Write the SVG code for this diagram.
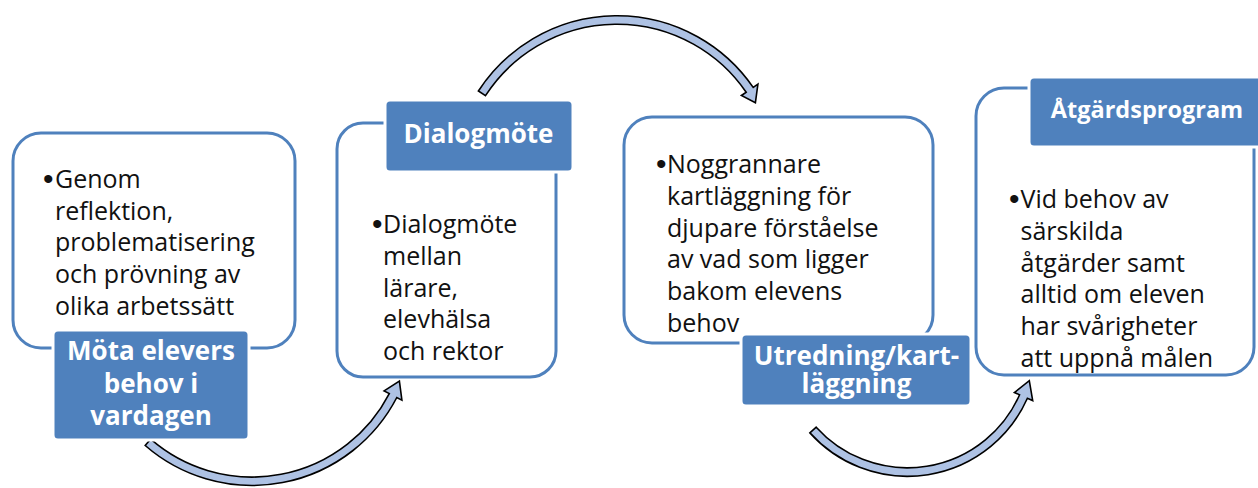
<svg xmlns="http://www.w3.org/2000/svg" width="1258" height="488" viewBox="0 0 1258 488">
<defs>
<style>
.box{fill:#ffffff;stroke:#4f81bd;stroke-width:3}
.lab{fill:#4f81bd;stroke:#ffffff;stroke-width:3}
.arr{fill:#aec2e4;stroke:#000000;stroke-width:1.6;stroke-linejoin:miter}
.body{font-family:"Open Sans","Liberation Sans",sans-serif;font-size:25px;fill:#111111}
.bul{font-family:"Liberation Sans",sans-serif;font-size:30px;fill:#111111}
.head{font-family:"Open Sans","Liberation Sans",sans-serif;font-size:26px;font-weight:bold;fill:#ffffff;text-anchor:middle}
</style>
</defs>
<rect width="1258" height="488" fill="#ffffff"/>
<g id="connectors">
<path class="arr" d="M 145.2,445.5 A 163 163 0 0 0 396.8,397.5 L 401.9,400.1 L 399.4,381.1 L 384.1,390.9 L 389.3,393.6 A 154.5 154.5 0 0 1 150.7,439.1 Z"/>
<path class="arr" d="M 478.4,91.0 A 165.25 165.25 0 0 1 753.2,87.4 L 757.9,84.1 L 755.4,102.7 L 741.4,95.5 L 746.2,92.2 A 156.75 156.75 0 0 0 485.5,95.6 Z"/>
<path class="arr" d="M 809.9,432.9 A 131.25 131.25 0 0 0 1027.4,398.3 L 1032.7,400.6 L 1029.3,380.7 L 1014.4,392.5 L 1019.6,394.8 A 122.75 122.75 0 0 1 816.2,427.2 Z"/>
</g>
<g id="node1">
<rect class="box" x="13" y="133" width="282" height="215" rx="28"/>
<text class="bul" x="43" y="189">•</text>
<text class="body"><tspan x="55" y="188">Genom</tspan><tspan x="55" y="219.7">reflektion,</tspan><tspan x="55" y="251.4">problematisering</tspan><tspan x="55" y="283.1">och prövning av</tspan><tspan x="55" y="314.8">olika arbetssätt</tspan></text>
<rect class="lab" x="53" y="330" width="196" height="110" rx="5"/>
<text class="head"><tspan x="151" y="360">Möta elevers</tspan><tspan x="151" y="393">behov i</tspan><tspan x="151" y="425">vardagen</tspan></text>
</g>
<g id="node2">
<rect class="box" x="337" y="123" width="219" height="254" rx="26"/>
<rect class="lab" x="385" y="100" width="188" height="72" rx="5"/>
<text class="head" x="478.5" y="143.3">Dialogmöte</text>
<text class="bul" x="372" y="234.3">•</text>
<text class="body"><tspan x="383" y="233.3">Dialogmöte</tspan><tspan x="383" y="265">mellan</tspan><tspan x="383" y="296.7">lärare,</tspan><tspan x="383" y="328.3">elevhälsa</tspan><tspan x="383" y="360">och rektor</tspan></text>
</g>
<g id="node3">
<rect class="box" x="624" y="117" width="309" height="226" rx="28"/>
<text class="bul" x="656" y="174.3">•</text>
<text class="body"><tspan x="667" y="173.3">Noggrannare</tspan><tspan x="667" y="205">kartläggning för</tspan><tspan x="667" y="236.7">djupare förståelse</tspan><tspan x="667" y="268.3">av vad som ligger</tspan><tspan x="667" y="300">bakom elevens</tspan><tspan x="667" y="331.7">behov</tspan></text>
<rect class="lab" x="741" y="334" width="230" height="72" rx="5"/>
<text class="head"><tspan x="856.5" y="365">Utredning/kart-</tspan><tspan x="856.5" y="393.3">läggning</tspan></text>
</g>
<g id="node4">
<rect class="box" x="976" y="88" width="278" height="287" rx="28"/>
<rect class="lab" x="1029" y="77" width="240" height="70" rx="5"/>
<text class="head" x="1147" y="118" style="font-size:23.5px">Åtgärdsprogram</text>
<text class="bul" x="1009" y="209.3">•</text>
<text class="body"><tspan x="1020.5" y="208.3">Vid behov av</tspan><tspan x="1020.5" y="240">särskilda</tspan><tspan x="1020.5" y="271.7">åtgärder samt</tspan><tspan x="1020.5" y="303.3">alltid om eleven</tspan><tspan x="1020.5" y="335">har svårigheter</tspan><tspan x="1020.5" y="366.7">att uppnå målen</tspan></text>
</g>
</svg>
